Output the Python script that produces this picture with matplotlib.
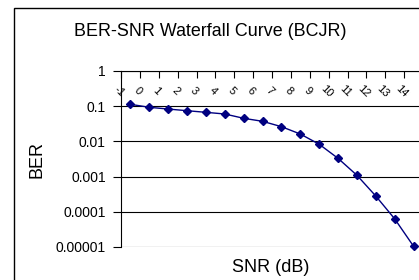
import matplotlib
matplotlib.use("Agg")
import matplotlib.pyplot as plt
from matplotlib.patches import Rectangle
import numpy as np

snr_labels = ["-1", "0", "1", "2", "3", "4", "5", "6", "7", "8", "9",
              "10", "11", "12", "13", "14"]
ber = [0.113, 0.093, 0.083, 0.0745, 0.067, 0.060, 0.0453, 0.0372, 0.0262,
       0.0162, 0.0083, 0.0033, 0.00109, 0.00028, 0.000063, 0.0000105]
ytick_vals = [1, 0.1, 0.01, 0.001, 0.0001, 0.00001]
ytick_labels = ["1", "0.1", "0.01", "0.001", "0.0001", "0.00001"]

plt.rcParams['font.family'] = ['Liberation Sans', 'DejaVu Sans']

W, H = 419, 280
fig = plt.figure(figsize=(W / 100, H / 100), dpi=100)

# chart area border
fig.patches.append(Rectangle((14 / W, -0.1), 1.2, 1.1 - 8 / H,
                             transform=fig.transFigure, fill=False,
                             edgecolor='black', linewidth=1.0, zorder=0))

left, right = 121 / W, 423 / W
top, bottom = 1 - 71 / H, 1 - 247 / H
ax = fig.add_axes([left, bottom, right - left, top - bottom])
ax.set_facecolor('none')

x = np.arange(len(snr_labels))
ax.set_yscale('log')
ax.set_ylim(1e-5, 1)
ax.set_xlim(-0.5, len(snr_labels) - 0.5)

for v in ytick_vals:
    ax.axhline(v, color='black', lw=0.8, zorder=1)

ax.plot(x, ber, color='#000080', lw=1.0, marker='D', markersize=4.5,
        markerfacecolor='#000080', markeredgecolor='#000080', zorder=3,
        clip_on=False)

for s in ['right', 'bottom']:
    ax.spines[s].set_visible(False)
ax.spines['left'].set_linewidth(0.8)
ax.spines['top'].set_linewidth(0.8)

ax.set_yticks(ytick_vals)
ax.set_yticklabels(ytick_labels, fontsize=10)
ax.yaxis.set_minor_locator(matplotlib.ticker.NullLocator())
ax.tick_params(axis='y', direction='out', length=6, width=0.8, pad=5,
               colors='black')

ax.xaxis.tick_top()
ax.set_xticks(np.arange(len(snr_labels) + 1) - 0.5)
ax.set_xticklabels([])
ax.tick_params(axis='x', direction='in', length=5, width=0.8, top=True,
               bottom=False)

# rotated category labels below the top axis
for i, lab in enumerate(snr_labels):
    ax.annotate(lab, xy=(i - 0.62, 1), xycoords=('data', 'data'),
                xytext=(0, -20), textcoords='offset pixels',
                rotation=-45, ha='center', va='center', fontsize=8,
                annotation_clip=False)

fig.text(210 / W, 1 - 32 / H, "BER-SNR Waterfall Curve (BCJR)",
         ha='center', va='center', fontsize=12.9)
fig.text(37 / W, 1 - 159 / H, "BER", rotation=90, ha='center',
         va='center', fontsize=13)
fig.text(271 / W, 1 - 267 / H, "SNR (dB)", ha='center', va='center',
         fontsize=13)

fig.savefig("out.png", dpi=100)
